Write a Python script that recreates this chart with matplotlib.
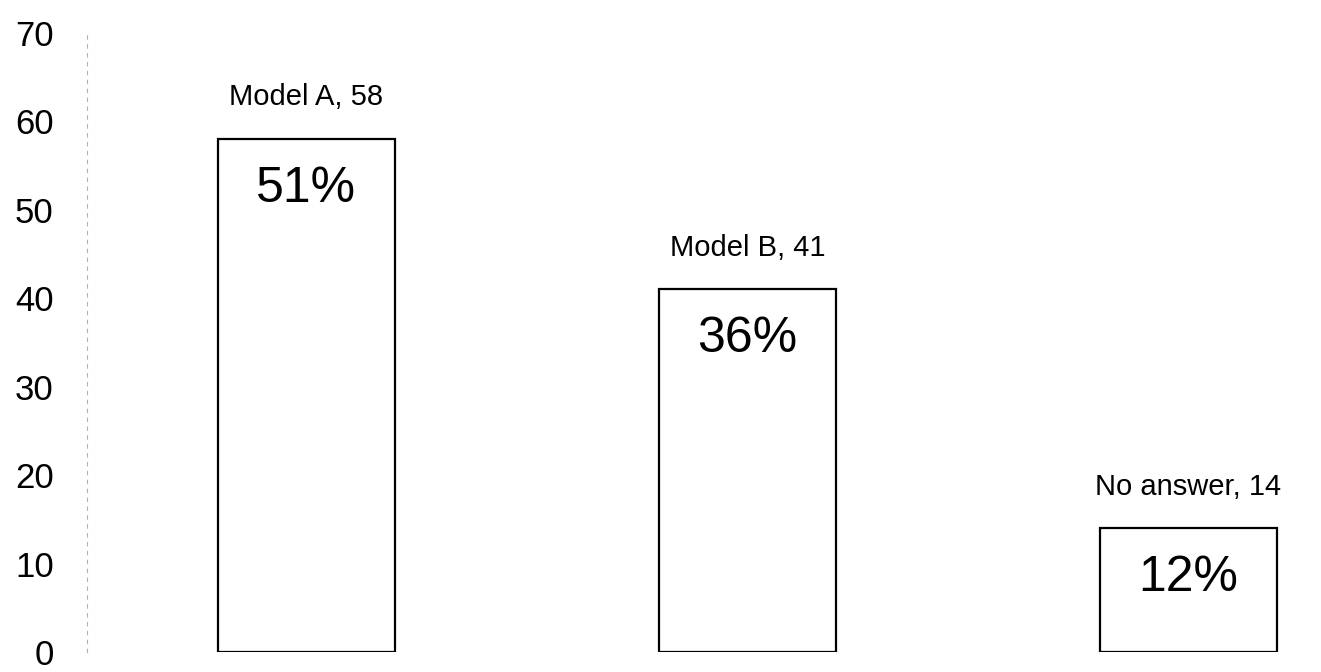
"""Answer counts per model, bar chart with share labels."""
import matplotlib.pyplot as plt

categories = ["Model A", "Model B", "No answer"]
counts = [58, 41, 14]
shares = ["51%", "36%", "12%"]
y_ticks = [0, 10, 20, 30, 40, 50, 60, 70]

plt.rcParams["font.family"] = ["Liberation Sans", "DejaVu Sans"]

fig = plt.figure(figsize=(13.21, 6.72), dpi=100)
ax = fig.add_axes([0.0659, 0.0298, 0.934, 0.9211])

x = list(range(len(categories)))
bars = ax.bar(x, counts, width=0.40, color="white", edgecolor="black", linewidth=1.6)

for xi, cat, n, pct in zip(x, categories, counts, shares):
    ax.annotate(f"{cat}, {n}", (xi, n), xytext=(0, 30), textcoords="offset points",
                ha="center", va="center", fontsize=21)
    ax.annotate(pct, (xi, n), xytext=(0, -36), textcoords="offset points",
                ha="center", va="center", fontsize=36)

ax.set_xlim(-0.497, 2.30)
ax.set_ylim(0, 70)
ax.set_yticks(y_ticks)
ax.set_yticklabels([str(t) for t in y_ticks], fontsize=25)
ax.tick_params(axis="y", length=0, pad=24)
ax.set_xticks([])

for side in ["top", "right", "bottom"]:
    ax.spines[side].set_visible(False)
ax.spines["left"].set_color("#b0b0b0")
ax.spines["left"].set_linewidth(0.8)
ax.spines["left"].set_linestyle((0, (3, 5)))

fig.savefig("out.png", dpi=100)
plt.close(fig)
